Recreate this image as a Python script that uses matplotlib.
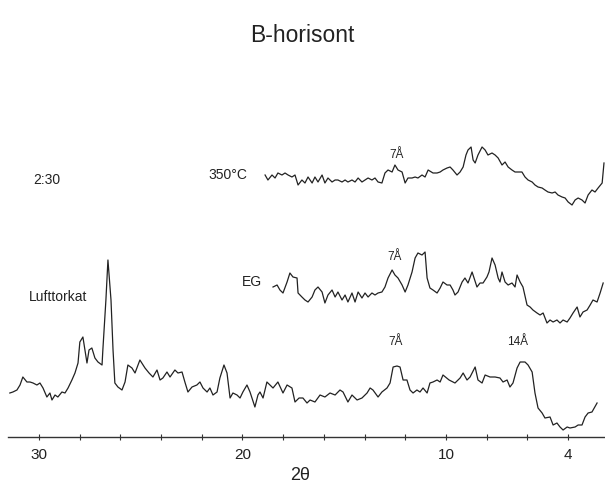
import matplotlib
matplotlib.use("Agg")
import matplotlib.pyplot as plt

plt.rcParams['font.family'] = ['Liberation Sans', 'DejaVu Sans']

# ---- Lufttorkat (air dried) ----
luft_2theta = [31.43, 31.28, 31.08, 30.93, 30.79, 30.59, 30.44, 30.29, 30.10, 29.95, 29.80, 29.61, 29.46, 29.36,
               29.21, 29.07, 28.87, 28.72, 28.57, 28.38, 28.23, 28.08, 27.99, 27.84, 27.74, 27.64, 27.54, 27.40,
               27.25, 27.10, 26.90, 26.86, 26.71, 26.61, 26.46, 26.36, 26.27, 26.12, 25.92, 25.77, 25.63, 25.43,
               25.28, 25.04, 24.79, 24.59, 24.40, 24.20, 24.05, 23.91, 23.71, 23.56, 23.32, 23.17, 22.97, 22.83,
               22.68, 22.48, 22.24, 22.09, 21.94, 21.74, 21.60, 21.45, 21.25, 21.11, 20.91, 20.76, 20.61, 20.47,
               20.27, 20.12, 19.98, 19.78, 19.63, 19.39, 19.24, 19.14, 18.99, 18.80, 18.65, 18.50, 18.26, 18.01,
               17.81, 17.57, 17.42, 17.22, 17.03, 16.83, 16.68, 16.44, 16.19, 15.95, 15.70, 15.45, 15.21, 15.06,
               14.82, 14.62, 14.37, 14.13, 13.88, 13.73, 13.59, 13.34, 13.15, 12.90, 12.75, 12.60, 12.41, 12.26,
               12.11, 11.92, 11.77, 11.62, 11.43, 11.28, 11.13, 10.93, 10.79, 10.64, 10.44, 10.29, 10.15, 9.85,
               9.56, 9.31, 9.16, 8.97, 8.82, 8.57, 8.43, 8.23, 8.08, 7.84, 7.59, 7.35, 7.20, 7.00, 6.86, 6.71,
               6.51, 6.36, 6.12, 5.97, 5.77, 5.63, 5.48, 5.28, 5.14, 4.89, 4.74, 4.55, 4.40, 4.25, 4.05, 3.91,
               3.66, 3.51, 3.32, 3.17, 3.02, 2.83, 2.58]
luft_int = [44, 45, 47, 52, 60, 55, 55, 54, 52, 54, 49, 40, 44, 37,
            42, 40, 45, 44, 49, 57, 64, 74, 95, 100, 87, 74, 87, 89,
            79, 75, 72, 87, 137, 177, 137, 87, 54, 50, 47, 55, 72, 69,
            64, 77, 69, 64, 60, 67, 57, 59, 65, 60, 67, 64, 65, 55,
            45, 50, 52, 55, 49, 45, 49, 42, 45, 59, 72, 64, 39, 44,
            42, 39, 45, 52, 45, 30, 42, 45, 39, 55, 52, 49, 55, 44,
            52, 49, 35, 39, 39, 34, 37, 35, 42, 40, 44, 42, 47, 45,
            35, 42, 37, 39, 44, 49, 47, 40, 45, 49, 54, 70, 71, 70,
            57, 57, 47, 44, 47, 45, 49, 44, 54, 55, 57, 55, 62, 57,
            54, 59, 64, 57, 60, 70, 57, 54, 62, 60, 60, 59, 55, 57, 50, 54,
            69, 75, 75, 72, 65, 44, 29, 24, 19, 20, 12, 14, 10, 7, 10, 9,
            10, 12, 12, 20, 24, 25, 34]

# ---- EG (ethylene glycol) ----
eg_2theta = [18.50, 18.30, 18.16, 18.01, 17.81, 17.67, 17.52, 17.32, 17.27, 17.08, 16.93, 16.78, 16.58, 16.44,
             16.29, 16.09, 15.95, 15.80, 15.60, 15.45, 15.31, 15.11, 14.96, 14.82, 14.62, 14.47, 14.32, 14.13,
             13.98, 13.83, 13.64, 13.49, 13.34, 13.15, 13.00, 12.85, 12.65, 12.51, 12.36, 12.16, 12.01, 11.87,
             11.67, 11.52, 11.38, 11.18, 11.03, 10.93, 10.79, 10.64, 10.44, 10.29, 10.15, 9.95, 9.80, 9.66,
             9.56, 9.41, 9.21, 9.07, 8.92, 8.72, 8.48, 8.33, 8.18, 7.99, 7.89, 7.74, 7.59, 7.44, 7.35, 7.25,
             7.10, 6.95, 6.76, 6.61, 6.51, 6.36, 6.22, 6.02, 5.87, 5.73, 5.53, 5.38, 5.23, 5.04, 4.89, 4.74,
             4.55, 4.40, 4.25, 4.05, 3.91, 3.76, 3.56, 3.42, 3.27, 3.07, 2.92, 2.78, 2.58, 2.43, 2.28]
eg_int = [150, 152, 147, 144, 155, 164, 160, 159, 144, 140, 137, 135, 140, 147,
          150, 145, 134, 142, 147, 140, 145, 137, 142, 135, 144, 135, 145, 139,
          144, 140, 144, 142, 144, 145, 150, 159, 167, 162, 159, 152, 145, 152,
          165, 179, 184, 182, 185, 159, 149, 147, 144, 149, 155, 152, 152, 147,
          142, 145, 155, 159, 154, 165, 150, 154, 154, 160, 165, 179, 172, 159, 155, 165,
          155, 152, 154, 150, 162, 155, 150, 132, 130, 127, 124, 122, 124, 114, 117, 115,
          117, 114, 117, 115, 119, 124, 130, 120, 125, 127, 132, 137, 135, 144, 154]

# ---- 350 °C ----
h350_2theta = [18.89, 18.75, 18.55, 18.40, 18.26, 18.06, 17.91, 17.76, 17.57, 17.42, 17.27, 17.08, 16.93, 16.78,
               16.58, 16.44, 16.29, 16.09, 15.95, 15.80, 15.60, 15.45, 15.31, 15.11, 14.96, 14.82, 14.62, 14.47,
               14.32, 14.13, 13.98, 13.83, 13.64, 13.49, 13.34, 13.15, 13.00, 12.85, 12.65, 12.51, 12.36, 12.16,
               12.01, 11.87, 11.67, 11.52, 11.38, 11.18, 11.03, 10.88, 10.64, 10.44, 10.29, 10.15, 9.95, 9.80,
               9.66, 9.46, 9.31, 9.16, 9.02, 8.92, 8.77, 8.67, 8.57, 8.43, 8.23, 8.08, 7.94, 7.74, 7.59, 7.44,
               7.25, 7.10, 6.95, 6.76, 6.61, 6.46, 6.27, 6.12, 5.97, 5.77, 5.63, 5.48, 5.28, 5.14, 4.99, 4.79,
               4.64, 4.50, 4.30, 4.15, 4.00, 3.81, 3.66, 3.51, 3.32, 3.17, 3.02, 2.83, 2.68, 2.53, 2.33, 2.24]
h350_int = [262, 257, 262, 259, 264, 262, 264, 262, 260, 262, 252, 257, 254, 260,
            254, 260, 255, 262, 254, 259, 255, 257, 257, 255, 257, 255, 257, 255,
            259, 255, 257, 259, 257, 259, 255, 254, 264, 267, 265, 272, 267, 265,
            254, 259, 259, 260, 259, 262, 260, 267, 264, 264, 265, 267, 269, 270,
            267, 262, 265, 270, 282, 287, 290, 277, 274, 282, 290, 287, 282, 284, 282, 279,
            272, 275, 270, 267, 265, 265, 265, 260, 257, 255, 252, 250, 249, 247, 245, 244,
            245, 242, 240, 239, 235, 232, 237, 239, 237, 234, 242, 247, 245, 249, 254, 274]

tick_positions = list(range(4, 32, 2))
tick_labels = {30: "30", 20: "20", 10: "10", 4: "4"}

fig = plt.figure(figsize=(6.05, 4.87), dpi=100)
ax = fig.add_axes([8 / 605, 50 / 487, 597 / 605, 377 / 487])

line_kw = dict(color="#222222", lw=0.9)
ax.plot(luft_2theta, luft_int, **line_kw)
ax.plot(eg_2theta, eg_int, **line_kw)
ax.plot(h350_2theta, h350_int, **line_kw)

ax.set_xlim(31.52, 2.19)
ax.set_ylim(0, 377)

for s in ("top", "right", "left"):
    ax.spines[s].set_visible(False)
ax.spines["bottom"].set_color("#333333")
ax.spines["bottom"].set_linewidth(1.0)
ax.set_yticks([])
ax.set_xticks(tick_positions)
ax.set_xticklabels([tick_labels.get(t, "") for t in tick_positions])
ax.tick_params(axis="x", direction="inout", length=4, width=0.8, colors="#333333",
               labelsize=11, pad=6, labelcolor="#222222")

fig.text(0.5, 1 - 35 / 487, "B-horisont", ha="center", va="center", fontsize=16.5, color="#222222")
fig.text(300 / 605, 1 - 476 / 487, "2θ", ha="center", va="center", fontsize=13, color="#222222")

tk = dict(ha="center", va="center", color="#222222")
ax.text(29.61, 257, "2:30", fontsize=10, **tk)
ax.text(20.71, 262, "350°C", fontsize=10, **tk)
ax.text(19.53, 155, "EG", fontsize=10, **tk)
ax.text(29.07, 140, "Lufttorkat", fontsize=10, **tk)
ax.text(12.41, 282, "7Å", fontsize=8.5, **tk)
ax.text(12.51, 180, "7Å", fontsize=8.5, **tk)
ax.text(12.46, 95, "7Å", fontsize=8.5, **tk)
ax.text(6.51, 95, "14Å", fontsize=8.5, **tk)

fig.savefig("out.png", dpi=100)
